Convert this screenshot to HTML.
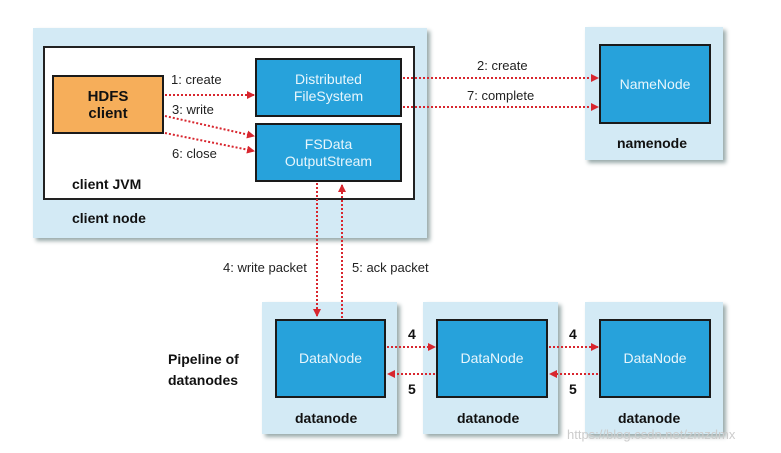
<!DOCTYPE html>
<html><head><meta charset="utf-8"><style>
body{margin:0;width:781px;height:453px;background:#fff;position:relative;overflow:hidden;font-family:"Liberation Sans",sans-serif}
.a{position:absolute;box-sizing:border-box}
.o{background:#d3eaf5;box-shadow:3px 3px 4px #9aa}
.b{background:#27a2db;border:2px solid #1a1a1a;color:#e8f6fc;font-size:14px;display:flex;align-items:center;justify-content:center;text-align:center;line-height:17px}
.t{position:absolute;font-size:13px;color:#222;white-space:nowrap}
.k{font-weight:bold;color:#111;font-size:14px}
</style></head><body>
<div class="a o" style="left:33px;top:28px;width:394px;height:210px"></div>
<div class="a" style="left:43px;top:46px;width:372px;height:154px;background:#fff;border:2px solid #222"></div>
<div class="a b" style="left:52px;top:75px;width:112px;height:59px;background:#f6ae5a;color:#111;font-weight:bold;font-size:15px">HDFS<br>client</div>
<div class="a b" style="left:255px;top:58px;width:147px;height:59px">Distributed<br>FileSystem</div>
<div class="a b" style="left:255px;top:123px;width:147px;height:59px">FSData<br>OutputStream</div>
<div class="t k" style="left:72px;top:176px">client JVM</div>
<div class="t k" style="left:72px;top:210px">client node</div>

<div class="a o" style="left:585px;top:27px;width:138px;height:133px"></div>
<div class="a b" style="left:599px;top:44px;width:112px;height:80px">NameNode</div>
<div class="t k" style="left:617px;top:135px">namenode</div>

<div class="a o" style="left:262px;top:302px;width:135px;height:132px"></div>
<div class="a b" style="left:275px;top:319px;width:111px;height:79px">DataNode</div>
<div class="t k" style="left:295px;top:410px">datanode</div>
<div class="a o" style="left:423px;top:302px;width:135px;height:132px"></div>
<div class="a b" style="left:436px;top:319px;width:112px;height:79px">DataNode</div>
<div class="t k" style="left:457px;top:410px">datanode</div>
<div class="a o" style="left:585px;top:302px;width:138px;height:132px"></div>
<div class="a b" style="left:599px;top:319px;width:112px;height:79px">DataNode</div>
<div class="t k" style="left:618px;top:410px">datanode</div>

<div class="t k" style="left:168px;top:349px;line-height:21px">Pipeline of<br>datanodes</div>

<svg class="a" style="left:0;top:0" width="781" height="453">
<defs><marker id="m" markerWidth="8" markerHeight="8" refX="7" refY="4" orient="auto" markerUnits="userSpaceOnUse"><path d="M0,0L8,4L0,8z" fill="#d8262e"/></marker></defs>
<g stroke="#d8262e" stroke-width="2" stroke-dasharray="2,2" fill="none" marker-end="url(#m)">
<line x1="165" y1="95" x2="254" y2="95"/>
<line x1="165" y1="116" x2="254" y2="136"/>
<line x1="165" y1="133" x2="254" y2="151"/>
<line x1="403" y1="78" x2="598" y2="78"/>
<line x1="403" y1="107" x2="598" y2="107"/>
<line x1="317" y1="183" x2="317" y2="316"/>
<line x1="342" y1="318" x2="342" y2="185"/>
<line x1="387" y1="347" x2="435" y2="347"/>
<line x1="435" y1="374" x2="388" y2="374"/>
<line x1="549" y1="347" x2="598" y2="347"/>
<line x1="598" y1="374" x2="550" y2="374"/>
</g></svg>
<div class="t" style="left:171px;top:72px">1: create</div>
<div class="t" style="left:172px;top:102px">3: write</div>
<div class="t" style="left:172px;top:146px">6: close</div>
<div class="t" style="left:477px;top:58px">2: create</div>
<div class="t" style="left:467px;top:88px">7: complete</div>
<div class="t" style="left:223px;top:260px">4: write packet</div>
<div class="t" style="left:352px;top:260px">5: ack packet</div>
<div class="t k" style="left:408px;top:326px">4</div>
<div class="t k" style="left:408px;top:381px">5</div>
<div class="t k" style="left:569px;top:326px">4</div>
<div class="t k" style="left:569px;top:381px">5</div>
<div class="t" style="left:567px;top:427px;color:#ccc;font-size:13px">https://blog.csdn.net/zmzdmx</div>
</body></html>
